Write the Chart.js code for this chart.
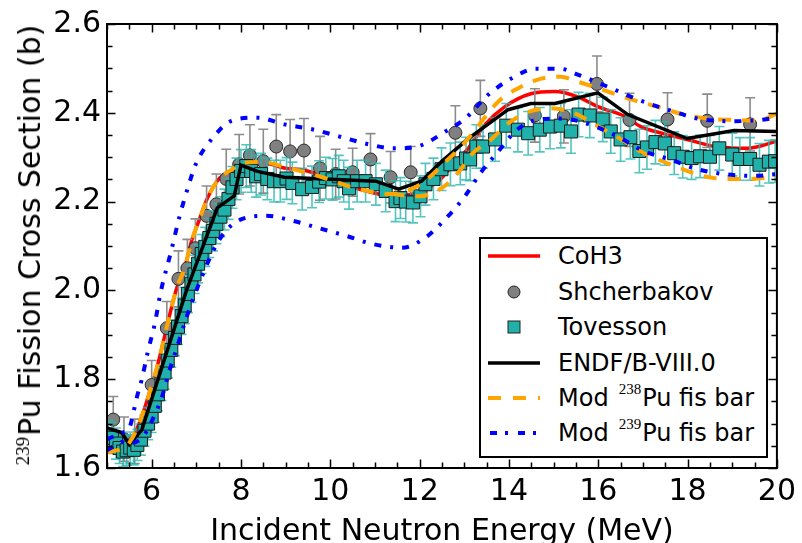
<!DOCTYPE html>
<html>
<head>
<meta charset="utf-8">
<title>239Pu fission cross section</title>
<script src="https://cdn.jsdelivr.net/npm/chart.js@4.4.1/dist/chart.umd.min.js"></script>
<style>
  body { margin: 0; background: #fff; }
  #wrap { position: relative; width: 802px; height: 543px; overflow: hidden; font-family: "DejaVu Sans", sans-serif; color: #000; }
  #chart { position: absolute; left: 0; top: 0; }
  #ylabel {
    position: absolute; left: 31.5px; top: 245px;
    transform: translate(-50%, -50%) rotate(-90deg);
    white-space: nowrap; font-size: 30px; line-height: 30px;
  }
  #ylabel .sup { font-family: "Liberation Serif", serif; font-size: 19px; position: relative; top: -11px; margin-right: 1px; }
  #legend {
    position: absolute; left: 479px; top: 237px; width: 289px; height: 221px;
    box-sizing: border-box; border: 2px solid #000; background: #fff;
  }
  .row { position: absolute; left: 0; height: 36px; display: flex; align-items: center; font-size: 24px; white-space: nowrap; }
  .row svg { margin-left: 7px; margin-right: 18px; flex: none; }
  .row .sup { font-family: "Liberation Serif", serif; font-size: 15px; position: relative; top: -9px; margin-left: 10px; margin-right: 1px; }
</style>
</head>
<body>
<div id="wrap">
  <canvas id="chart" width="802" height="543"></canvas>
  <div id="ylabel"><span class="sup">239</span>Pu Fission Cross Section (b)</div>
  <div id="legend">
    <div class="row" style="top:-1px"><svg width="52" height="14"><line x1="0" y1="7" x2="52" y2="7" stroke="#ff0000" stroke-width="3.5"/></svg>CoH3</div>
    <div class="row" style="top:35px"><svg width="52" height="14"><circle cx="26" cy="7" r="6" fill="#808080" stroke="#222" stroke-width="1"/></svg>Shcherbakov</div>
    <div class="row" style="top:70px"><svg width="52" height="14"><rect x="20" y="1" width="12" height="12" fill="#20b2aa" stroke="#222" stroke-width="1"/></svg>Tovesson</div>
    <div class="row" style="top:106px"><svg width="52" height="14"><line x1="0" y1="7" x2="52" y2="7" stroke="#000" stroke-width="3.5"/></svg>ENDF/B-VIII.0</div>
    <div class="row" style="top:141px"><svg width="52" height="14"><line x1="0" y1="7" x2="52" y2="7" stroke="#ffa500" stroke-width="4" stroke-dasharray="13 12"/></svg>Mod<span class="sup">238</span>Pu fis bar</div>
    <div class="row" style="top:176px"><svg width="52" height="14"><line x1="2" y1="7" x2="52" y2="7" stroke="#0000ff" stroke-width="4" stroke-dasharray="7 8 3 10"/></svg>Mod<span class="sup">239</span>Pu fis bar</div>
  </div>
</div>
<script>
// ---- data ----
const xTickValues = [6, 8, 10, 12, 14, 16, 18, 20];
const yTickValues = [1.6, 1.8, 2.0, 2.2, 2.4, 2.6];

const coh3E = [5.0, 5.5, 6.07, 6.56, 6.74, 6.89, 7.07, 7.25, 7.52, 7.79, 8.0, 8.5, 9.0, 9.4, 10.64, 11.46, 11.98, 12.42, 12.8, 13.09, 13.47, 13.91, 14.49, 15.03, 15.54, 15.99, 16.59, 16.95, 17.5, 17.99, 18.6, 19.33, 20];
const coh3Sig = [1.635, 1.657, 1.809, 2.005, 2.051, 2.11, 2.16, 2.208, 2.253, 2.269, 2.284, 2.287, 2.275, 2.271, 2.228, 2.212, 2.222, 2.246, 2.29, 2.32, 2.374, 2.414, 2.443, 2.448, 2.436, 2.414, 2.392, 2.369, 2.352, 2.34, 2.324, 2.32, 2.336];

const shchE = [5.14, 5.38, 5.62, 6.0, 6.34, 6.6, 6.8, 6.98, 7.23, 7.45, 7.67, 7.96, 8.2, 8.5, 8.79, 9.1, 9.41, 9.77, 10.12, 10.5, 10.9, 11.35, 11.8, 12.8, 13.36, 14.58, 15.23, 15.97, 16.7, 17.55, 18.44, 19.4];
const shchSig = [1.709, 1.665, 1.66, 1.787, 1.915, 2.026, 2.05, 2.095, 2.168, 2.194, 2.251, 2.284, 2.304, 2.291, 2.324, 2.313, 2.315, 2.275, 2.262, 2.266, 2.295, 2.255, 2.266, 2.355, 2.41, 2.394, 2.392, 2.465, 2.384, 2.385, 2.382, 2.374];
const shchErr = [0.052, 0.05, 0.05, 0.055, 0.06, 0.063, 0.065, 0.066, 0.067, 0.068, 0.067, 0.067, 0.069, 0.072, 0.072, 0.072, 0.072, 0.072, 0.056, 0.054, 0.058, 0.058, 0.058, 0.061, 0.063, 0.06, 0.06, 0.063, 0.06, 0.06, 0.06, 0.06];

const tovE = [5.03, 5.11, 5.2, 5.28, 5.36, 5.44, 5.52, 5.6, 5.68, 5.76, 5.84, 5.92, 6.0, 6.07, 6.14, 6.22, 6.29, 6.36, 6.44, 6.52, 6.59, 6.67, 6.74, 6.81, 6.89, 6.96, 7.04, 7.12, 7.2, 7.29, 7.37, 7.45, 7.54, 7.63, 7.72, 7.81, 7.9, 8.0, 8.12, 8.23, 8.34, 8.45, 8.59, 8.74, 8.88, 9.02, 9.15, 9.37, 9.59, 9.75, 9.9, 10.05, 10.19, 10.3, 10.42, 10.6, 10.79, 11.02, 11.24, 11.46, 11.57, 11.69, 11.85, 12.02, 12.13, 12.31, 12.49, 12.69, 12.91, 13.04, 13.13, 13.27, 13.42, 13.69, 13.94, 14.2, 14.43, 14.69, 14.92, 15.16, 15.39, 15.56, 15.81, 16.1, 16.28, 16.5, 16.72, 16.92, 17.09, 17.28, 17.49, 17.7, 17.89, 18.09, 18.28, 18.5, 18.71, 19.0, 19.17, 19.4, 19.61, 19.82, 19.96];
const tovSig = [1.672, 1.668, 1.655, 1.645, 1.637, 1.64, 1.646, 1.641, 1.652, 1.664, 1.684, 1.7, 1.716, 1.74, 1.766, 1.79, 1.815, 1.842, 1.866, 1.893, 1.918, 1.942, 1.966, 1.992, 2.015, 2.036, 2.06, 2.082, 2.098, 2.118, 2.134, 2.15, 2.166, 2.182, 2.206, 2.232, 2.251, 2.269, 2.28, 2.269, 2.257, 2.262, 2.251, 2.246, 2.246, 2.252, 2.242, 2.228, 2.233, 2.245, 2.253, 2.25, 2.257, 2.246, 2.23, 2.246, 2.246, 2.239, 2.224, 2.201, 2.208, 2.2, 2.198, 2.212, 2.239, 2.251, 2.273, 2.284, 2.286, 2.297, 2.295, 2.324, 2.324, 2.34, 2.371, 2.362, 2.354, 2.362, 2.369, 2.371, 2.358, 2.396, 2.394, 2.385, 2.358, 2.34, 2.345, 2.314, 2.322, 2.334, 2.331, 2.309, 2.301, 2.298, 2.302, 2.301, 2.32, 2.306, 2.296, 2.296, 2.283, 2.29, 2.291];
const tovErr = [0.035, 0.035, 0.035, 0.035, 0.034, 0.034, 0.035, 0.034, 0.035, 0.035, 0.035, 0.036, 0.036, 0.037, 0.037, 0.038, 0.038, 0.039, 0.039, 0.04, 0.04, 0.041, 0.041, 0.042, 0.042, 0.043, 0.043, 0.044, 0.044, 0.044, 0.045, 0.045, 0.045, 0.046, 0.046, 0.047, 0.047, 0.048, 0.048, 0.048, 0.047, 0.047, 0.047, 0.047, 0.047, 0.047, 0.047, 0.047, 0.047, 0.047, 0.047, 0.047, 0.047, 0.047, 0.047, 0.047, 0.047, 0.047, 0.047, 0.046, 0.046, 0.046, 0.046, 0.046, 0.047, 0.047, 0.048, 0.048, 0.048, 0.048, 0.048, 0.049, 0.049, 0.049, 0.05, 0.05, 0.049, 0.05, 0.05, 0.05, 0.049, 0.05, 0.05, 0.05, 0.049, 0.049, 0.049, 0.049, 0.049, 0.049, 0.049, 0.048, 0.048, 0.048, 0.048, 0.048, 0.049, 0.048, 0.048, 0.048, 0.048, 0.048, 0.048];

const endfE = [5.0, 5.33, 5.5, 5.78, 6.78, 7.47, 7.85, 8.0, 8.37, 8.97, 9.37, 11.02, 11.53, 12.04, 12.49, 13.09, 13.98, 14.49, 15.03, 15.99, 16.66, 17.99, 19.04, 20];
const endfSig = [1.69, 1.68, 1.653, 1.686, 2.0, 2.186, 2.213, 2.282, 2.268, 2.255, 2.253, 2.246, 2.228, 2.246, 2.29, 2.342, 2.407, 2.421, 2.421, 2.445, 2.396, 2.342, 2.36, 2.358];

// Mod 238Pu fission barrier: upper and lower bounds
const mod238HiE = [5.0, 5.5, 6.07, 6.56, 6.74, 6.89, 7.07, 7.25, 7.52, 7.79, 8.0, 8.5, 8.97, 9.75, 10.57, 11.37, 11.82, 12.2, 12.58, 12.93, 13.16, 13.76, 14.2, 14.72, 15.16, 15.54, 16.21, 16.81, 17.32, 17.84, 18.44, 19.04, 19.55, 20];
const mod238HiSig = [1.635, 1.657, 1.809, 2.005, 2.051, 2.11, 2.16, 2.208, 2.253, 2.272, 2.286, 2.289, 2.278, 2.257, 2.23, 2.217, 2.228, 2.253, 2.29, 2.324, 2.351, 2.425, 2.455, 2.477, 2.481, 2.47, 2.448, 2.428, 2.414, 2.398, 2.387, 2.384, 2.382, 2.398];
const mod238LoE = [11.37, 11.98, 12.49, 12.87, 13.16, 13.6, 13.98, 14.47, 14.94, 15.47, 15.92, 16.4, 16.95, 17.84, 18.37, 18.88, 19.4, 20];
const mod238LoSig = [2.217, 2.212, 2.23, 2.266, 2.306, 2.34, 2.376, 2.403, 2.41, 2.399, 2.374, 2.347, 2.313, 2.275, 2.257, 2.251, 2.251, 2.257];

// Mod 239Pu fission barrier: upper and lower bounds
const mod239HiE = [5.0, 5.36, 5.5, 5.67, 5.78, 5.91, 6.07, 6.2, 6.44, 6.62, 6.8, 7.0, 7.34, 7.79, 8.37, 8.97, 9.59, 10.19, 10.86, 11.42, 11.98, 12.58, 13.02, 13.54, 14.05, 14.6, 15.16, 15.54, 16.37, 16.88, 17.84, 18.22, 19.04, 19.71, 20];
const mod239HiSig = [1.665, 1.68, 1.69, 1.76, 1.8, 1.86, 1.925, 1.995, 2.09, 2.165, 2.228, 2.287, 2.34, 2.382, 2.389, 2.374, 2.363, 2.347, 2.329, 2.32, 2.325, 2.358, 2.387, 2.441, 2.477, 2.499, 2.499, 2.486, 2.452, 2.43, 2.398, 2.387, 2.381, 2.385, 2.39];
const mod239LoE = [5.0, 5.4, 5.58, 5.8, 6.0, 6.23, 6.4, 6.58, 6.78, 7.0, 7.52, 8.0, 8.57, 9.15, 9.75, 10.35, 10.93, 11.6, 12.13, 12.58, 13.02, 13.36, 13.76, 14.16, 14.54, 15.1, 15.61, 16.43, 17.03, 17.61, 18.22, 18.82, 19.49, 20];
const mod239LoSig = [1.64, 1.66, 1.657, 1.67, 1.705, 1.76, 1.82, 1.876, 1.939, 2.0, 2.115, 2.16, 2.168, 2.157, 2.14, 2.123, 2.105, 2.096, 2.119, 2.161, 2.213, 2.264, 2.313, 2.36, 2.382, 2.387, 2.38, 2.347, 2.313, 2.295, 2.273, 2.262, 2.258, 2.262];

const FONT = "DejaVu Sans";

function toPoints(xs, ys) {
  return xs.map((x, i) => ({ x: x, y: ys[i] }));
}

function lineSet(xs, ys, color, width, dash, order, smooth) {
  return {
    data: toPoints(xs, ys),
    showLine: true,
    borderColor: color,
    borderWidth: width,
    borderDash: dash,
    pointRadius: 0,
    fill: false,
    cubicInterpolationMode: smooth ? "monotone" : "default",
    tension: 0,
    clip: 0,
    order: order,
  };
}

// vertical error bars with caps, drawn under the markers of their own dataset
const errorBars = {
  id: "errorBars",
  beforeDatasetDraw(chart, args) {
    const ds = chart.data.datasets[args.index];
    if (!ds.errors) return;
    const { ctx, chartArea, scales } = chart;
    const cap = 5;
    ctx.save();
    ctx.beginPath();
    ctx.rect(chartArea.left, chartArea.top, chartArea.right - chartArea.left, chartArea.bottom - chartArea.top);
    ctx.clip();
    ctx.strokeStyle = ds.errorColor;
    ctx.lineWidth = 1.6;
    ds.data.forEach((p, i) => {
      const px = scales.x.getPixelForValue(p.x);
      const top = scales.y.getPixelForValue(p.y + ds.errors[i]);
      const bot = scales.y.getPixelForValue(p.y - ds.errors[i]);
      ctx.beginPath();
      ctx.moveTo(px, top); ctx.lineTo(px, bot);
      ctx.moveTo(px - cap, top); ctx.lineTo(px + cap, top);
      ctx.moveTo(px - cap, bot); ctx.lineTo(px + cap, bot);
      ctx.stroke();
    });
    ctx.restore();
  },
};

// box around the plot with inward ticks on all four sides
const frameTicks = {
  id: "frameTicks",
  afterDraw(chart) {
    const { ctx, chartArea: a, scales } = chart;
    const major = 8.5, minor = 5.5;
    ctx.save();
    ctx.strokeStyle = "#000";
    ctx.lineWidth = 1.5;
    ctx.beginPath();
    for (let v = 5; v <= 20.001; v += 0.5) {
      const px = Math.round(scales.x.getPixelForValue(v)) + 0.5;
      const len = xTickValues.includes(Math.round(v * 10) / 10) ? major : minor;
      ctx.moveTo(px, a.bottom); ctx.lineTo(px, a.bottom - len);
      ctx.moveTo(px, a.top); ctx.lineTo(px, a.top + len);
    }
    for (let k = 0; k <= 20; k++) {
      const v = 1.6 + k * 0.05;
      const py = Math.round(scales.y.getPixelForValue(v)) + 0.5;
      const len = k % 4 === 0 ? major : minor;
      ctx.moveTo(a.left, py); ctx.lineTo(a.left + len, py);
      ctx.moveTo(a.right, py); ctx.lineTo(a.right - len, py);
    }
    ctx.stroke();
    ctx.lineWidth = 2;
    ctx.strokeRect(a.left, a.top, a.right - a.left, a.bottom - a.top);
    ctx.restore();
  },
};

const shchSet = {
  data: toPoints(shchE, shchSig),
  errors: shchErr,
  errorColor: "#8c8c8c",
  showLine: false,
  pointStyle: "circle",
  pointRadius: 6.5,
  pointBackgroundColor: "#808080",
  pointBorderColor: "#2a2a2a",
  pointBorderWidth: 1,
  clip: 0,
  order: 5,
};

const tovSet = {
  data: toPoints(tovE, tovSig),
  errors: tovErr,
  errorColor: "rgba(40,182,174,0.8)",
  showLine: false,
  pointStyle: "rect",
  pointRadius: 9.2,
  pointBackgroundColor: "#20b2aa",
  pointBorderColor: "#1a1a1a",
  pointBorderWidth: 1,
  clip: 0,
  order: 4,
};

new Chart(document.getElementById("chart"), {
  type: "scatter",
  data: {
    datasets: [
      lineSet(coh3E, coh3Sig, "#ff0000", 3.5, [], 6, true),
      shchSet,
      tovSet,
      lineSet(endfE, endfSig, "#000000", 3.5, [], 3, false),
      lineSet(mod238HiE, mod238HiSig, "#ffa500", 4, [13, 11], 2, true),
      lineSet(mod238LoE, mod238LoSig, "#ffa500", 4, [13, 11], 2, true),
      lineSet(mod239HiE, mod239HiSig, "#0000ff", 4, [7, 9, 3, 9], 1, true),
      lineSet(mod239LoE, mod239LoSig, "#0000ff", 4, [7, 9, 3, 9], 1, true),
    ],
  },
  options: {
    responsive: false,
    animation: false,
    events: [],
    layout: { padding: { left: 0, right: 22, top: 22, bottom: 0 } },
    plugins: { legend: { display: false }, tooltip: { enabled: false } },
    scales: {
      x: {
        type: "linear",
        min: 5,
        max: 20,
        afterBuildTicks: (axis) => { axis.ticks = xTickValues.map((v) => ({ value: v })); },
        afterFit: (axis) => { axis.height = 75; },
        grid: { display: false, drawTicks: false },
        border: { display: false },
        ticks: { color: "#000", padding: 6, maxRotation: 0, autoSkip: false, font: { family: FONT, size: 30 } },
        title: {
          display: true,
          text: "Incident Neutron Energy (MeV)",
          color: "#000",
          padding: 0,
          font: { family: FONT, size: 30, lineHeight: 0.75 },
        },
      },
      y: {
        type: "linear",
        min: 1.6,
        max: 2.6,
        afterBuildTicks: (axis) => { axis.ticks = yTickValues.map((v) => ({ value: v })); },
        afterFit: (axis) => { axis.width = 107; },
        grid: { display: false, drawTicks: false },
        border: { display: false },
        ticks: {
          color: "#000",
          padding: 6,
          autoSkip: false,
          font: { family: FONT, size: 30 },
          callback: (v) => Number(v).toFixed(1),
        },
      },
    },
  },
  plugins: [errorBars, frameTicks],
});
</script>
</body>
</html>
